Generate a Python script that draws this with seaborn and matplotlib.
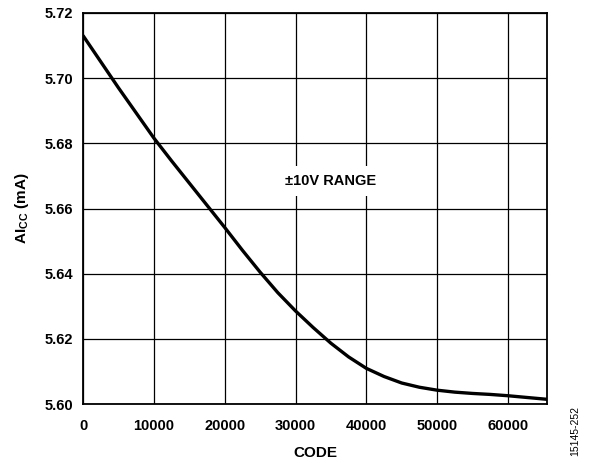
import pandas as pd
import matplotlib
matplotlib.use("Agg")
import matplotlib.pyplot as plt
import seaborn as sns

# values
code = [0, 2500, 5000, 7500, 10000, 12500, 15000, 17500, 20000, 22500,
        25000, 27500, 30000, 32500, 35000, 37500, 40000, 42500, 45000,
        47500, 50000, 52500, 55000, 57500, 60000, 62500, 65535]
aicc = [5.7130, 5.7050, 5.6970, 5.6893, 5.6816, 5.6746, 5.6678, 5.6610,
        5.6542, 5.6472, 5.6405, 5.6342, 5.6286, 5.6235, 5.6187, 5.6145,
        5.6110, 5.6085, 5.6065, 5.6052, 5.6043, 5.6037, 5.6033, 5.6030,
        5.6026, 5.6021, 5.6015]
xticks = [0, 10000, 20000, 30000, 40000, 50000, 60000]
yticks = [5.60, 5.62, 5.64, 5.66, 5.68, 5.70, 5.72]

df = pd.DataFrame({"code": code, "aicc": aicc})

sns.set_style("white")
plt.rcParams['font.family'] = ['Liberation Sans', 'DejaVu Sans']
plt.rcParams['mathtext.fontset'] = 'custom'
plt.rcParams['mathtext.bf'] = 'Liberation Sans:bold'
plt.rcParams['mathtext.rm'] = 'Liberation Sans:bold'
for k in ['text.color', 'axes.labelcolor', 'xtick.color', 'ytick.color']:
    plt.rcParams[k] = 'black'

fig = plt.figure(figsize=(5.94, 4.63), dpi=100)
ax = fig.add_axes([0.140, 0.127, 0.781, 0.845])

sns.lineplot(data=df, x="code", y="aicc", color="black", linewidth=2.4, ax=ax)

ax.set_xlim(0, 65535)
ax.set_ylim(5.60, 5.72)
ax.set_xticks(xticks)
ax.set_yticks(yticks)
ax.set_xticklabels([str(t) for t in xticks], fontsize=10.5, fontweight='bold')
ax.set_yticklabels([f"{t:.2f}" for t in yticks], fontsize=10.5, fontweight='bold')
ax.grid(True, color='black', linewidth=0.9)
ax.set_axisbelow(True)
for s in ax.spines.values():
    s.set_color('black')
    s.set_linewidth(1.3)
ax.tick_params(length=3, width=0.9, color='black', pad=4)
ax.tick_params(axis='x', pad=8)

ax.set_xlabel("CODE", fontsize=11, fontweight='bold', labelpad=9)
ax.set_ylabel(r"AI$_\mathbf{CC}$ (mA)", fontsize=11, fontweight='bold', labelpad=10)

ax.text(35000, 5.6685, "±10V RANGE", fontsize=10.5, fontweight='bold',
        ha='center', va='center',
        bbox=dict(facecolor='white', edgecolor='none', pad=6))

fig.text(0.968, 0.015, "15145-252", rotation=90, fontsize=7.5, ha='center', va='bottom')

fig.savefig("out.png", dpi=100)
